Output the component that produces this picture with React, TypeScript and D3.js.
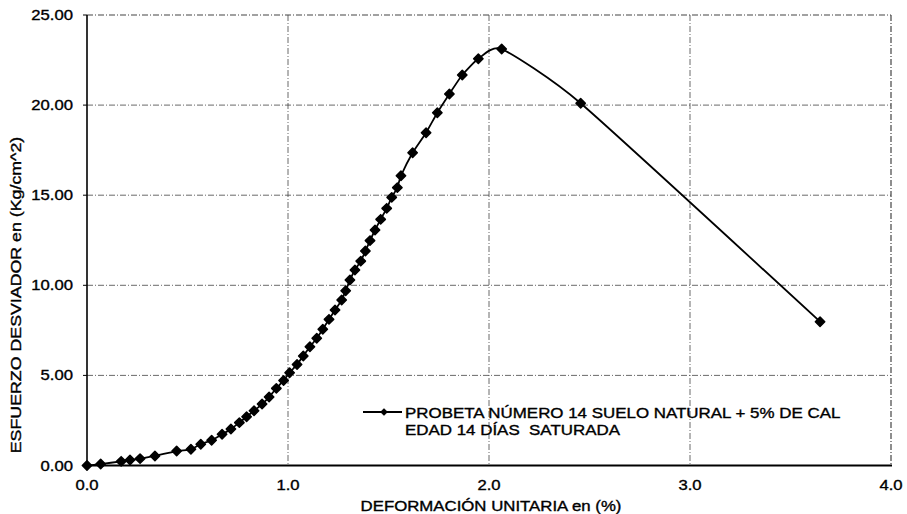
import React from "react";
import * as d3 from "d3";

const strainPct = [0, 0.068, 0.17, 0.214, 0.264, 0.338, 0.446, 0.517, 0.566, 0.62, 0.672, 0.716, 0.758, 0.794, 0.831, 0.871, 0.906, 0.942, 0.978, 1.008, 1.045, 1.076, 1.109, 1.143, 1.173, 1.204, 1.234, 1.267, 1.287, 1.308, 1.333, 1.362, 1.385, 1.408, 1.433, 1.461, 1.491, 1.516, 1.544, 1.562, 1.62, 1.687, 1.743, 1.803, 1.867, 1.947, 2.063, 2.456, 3.647];
const stress = [0, 0.08, 0.23, 0.3, 0.38, 0.53, 0.8, 0.9, 1.18, 1.4, 1.73, 2.03, 2.38, 2.71, 3.04, 3.41, 3.8, 4.28, 4.72, 5.15, 5.61, 6.08, 6.59, 7.06, 7.56, 8.11, 8.63, 9.18, 9.7, 10.29, 10.85, 11.34, 11.9, 12.48, 13.07, 13.66, 14.27, 14.88, 15.42, 16.08, 17.36, 18.47, 19.58, 20.62, 21.67, 22.57, 23.11, 20.1, 7.98];
const xTicks = [0, 1, 2, 3, 4];
const yTicks = [0, 5, 10, 15, 20, 25];
const legendLine1 = "PROBETA NÚMERO 14 SUELO NATURAL + 5% DE CAL";
const legendLine2 = "EDAD 14 DÍAS  SATURADA";
const xTitle = "DEFORMACIÓN UNITARIA en (%)";
const yTitle = "ESFUERZO DESVIADOR en (Kg/cm^2)";

const W = 907, H = 514;
const L = 87, R = 891, T = 15, B = 465.5;
const SX = 1.19;
const font = "'Liberation Sans', Arial, sans-serif";

export default function App() {
  const x = d3.scaleLinear().domain([0, 4]).range([L, R]);
  const y = d3.scaleLinear().domain([0, 25]).range([B, T]);
  const pts = strainPct.map((v, i) => [x(v), y(stress[i])] as [number, number]);
  const line = d3.line().curve(d3.curveCardinal.tension(0.45))(pts) || "";
  const marker = d3.symbol().type(d3.symbolSquare).size(44)() || "";
  const grid = { stroke: "#444", strokeWidth: 0.8, strokeDasharray: "6 2 1 2", fill: "none" };
  const txt = { fontFamily: font, fontSize: 14, fill: "#000", stroke: "#000", strokeWidth: 0.35 } as const;
  return (
    <svg width={W} height={H} style={{ position: "absolute", left: 0, top: 0, background: "#fff" }}>
      <rect x={0} y={0} width={W} height={H} fill="#fff" />
      {yTicks.filter(t => t > 0 && t < 25).map(t => (
        <line key={"gy" + t} x1={L} x2={R} y1={y(t)} y2={y(t)} {...grid} />
      ))}
      {xTicks.filter(t => t > 0 && t < 4).map(t => (
        <line key={"gx" + t} x1={x(t)} x2={x(t)} y1={T} y2={B} {...grid} />
      ))}
      <line x1={L} x2={R} y1={T} y2={T} {...grid} strokeWidth={1.2} />
      <line x1={R} x2={R} y1={T} y2={B} {...grid} strokeWidth={1.2} />
      <line x1={L} x2={L} y1={T} y2={B + 1} stroke="#000" strokeWidth={1.6} />
      <line x1={L} x2={R + 1} y1={B} y2={B} stroke="#000" strokeWidth={2} />
      {yTicks.map(t => (
        <line key={"ty" + t} x1={L - 4} x2={L} y1={y(t)} y2={y(t)} stroke="#000" strokeWidth={1} />
      ))}
      {yTicks.map(t => (
        <g key={"ly" + t} transform={`translate(${L - 14},${y(t) + 5}) scale(${SX},1)`}>
          <text {...txt} textAnchor="end">{t.toFixed(2)}</text>
        </g>
      ))}
      {xTicks.map(t => (
        <g key={"lx" + t} transform={`translate(${x(t)},${490}) scale(${SX},1)`}>
          <text {...txt} textAnchor="middle">{t.toFixed(1)}</text>
        </g>
      ))}
      <g transform={`translate(${491},${511}) scale(1.2,1)`}>
        <text {...txt} textAnchor="middle">{xTitle}</text>
      </g>
      <g transform={`translate(${21},${295}) rotate(-90) scale(1.27,1)`}>
        <text {...txt} textAnchor="middle">{yTitle}</text>
      </g>
      <path d={line} fill="none" stroke="#000" strokeWidth={1.8} />
      {pts.map((p, i) => (
        <path key={"m" + i} d={marker} transform={`translate(${p[0]},${p[1]}) rotate(45)`} fill="#000" stroke="#000" strokeWidth={1.5} strokeLinejoin="round" />
      ))}
      <line x1={363} x2={402} y1={412} y2={412} stroke="#000" strokeWidth={1.8} />
      <path d={d3.symbol().type(d3.symbolSquare).size(20)() || ""} transform={`translate(384,412) rotate(45)`} fill="#000" stroke="#000" strokeWidth={1} />
      <g transform={`translate(405,417.5) scale(1.21,1)`}>
        <text {...txt}>{legendLine1}</text>
      </g>
      <g transform={`translate(405,434.5) scale(1.21,1)`}>
        <text {...txt} style={{ whiteSpace: "pre" }}>{legendLine2}</text>
      </g>
    </svg>
  );
}
